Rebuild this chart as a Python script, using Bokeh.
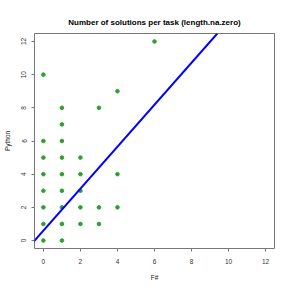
from bokeh.plotting import figure
from bokeh.models import Range1d, FixedTicker, Slope
from bokeh.embed import file_html
from bokeh.resources import INLINE

# data: number of solutions per task (F# vs Python)
fsharp = [0, 0, 0, 0, 0, 0, 0, 0,
          1, 1, 1, 1, 1, 1, 1, 1, 1,
          2, 2, 2, 2, 2,
          3, 3, 3,
          4, 4, 4,
          6]
python = [0, 1, 2, 3, 4, 5, 6, 10,
          0, 1, 2, 3, 4, 5, 6, 7, 8,
          1, 2, 3, 4, 5,
          1, 2, 8,
          2, 4, 9,
          12]
fit_intercept = 0.6
fit_slope = 1.265
ticks = [0, 2, 4, 6, 8, 10, 12]

title = "Number of solutions per task (length.na.zero)"

p = figure(width=283, height=283, output_backend="svg", toolbar_location=None,
           x_range=Range1d(-0.48, 12.48), y_range=Range1d(-0.48, 12.48),
           min_border_left=34, min_border_right=9, min_border_top=33, min_border_bottom=35)

p.title.text = title
p.title.align = "center"
p.title.text_font = "Liberation Sans"
p.title.text_font_style = "bold"
p.title.text_font_size = "8px"
p.title.text_color = "black"
p.title.offset = 0
p.title.standoff = 13

p.grid.visible = False
p.outline_line_color = "#777777"
p.outline_line_width = 1
p.background_fill_color = "white"
p.border_fill_color = "white"

for ax in (p.xaxis[0], p.yaxis[0]):
    ax.ticker = FixedTicker(ticks=ticks)
    ax.axis_line_color = None
    ax.major_tick_line_color = "#777777"
    ax.major_tick_out = 3
    ax.major_tick_in = 0
    ax.minor_tick_line_color = None
    ax.major_label_text_font = "Liberation Sans"
    ax.major_label_text_font_size = "6.5px"
    ax.major_label_text_color = "#333333"
    ax.axis_label_text_font = "Liberation Sans"
    ax.axis_label_text_font_size = "6.5px"
    ax.axis_label_text_font_style = "normal"
    ax.axis_label_text_color = "#222222"

p.xaxis.axis_label = "F#"
p.xaxis.major_label_standoff = 7
p.xaxis.axis_label_standoff = 7
p.yaxis.axis_label = "Python"
p.yaxis.major_label_orientation = "vertical"
p.yaxis.major_label_standoff = 5
p.yaxis.axis_label_standoff = 8

p.scatter(fsharp, python, size=3.6, color="#2ca02c")
p.add_layout(Slope(gradient=fit_slope, y_intercept=fit_intercept,
                   line_color="blue", line_width=2))

open("out.html", "w").write(file_html(p, INLINE))
